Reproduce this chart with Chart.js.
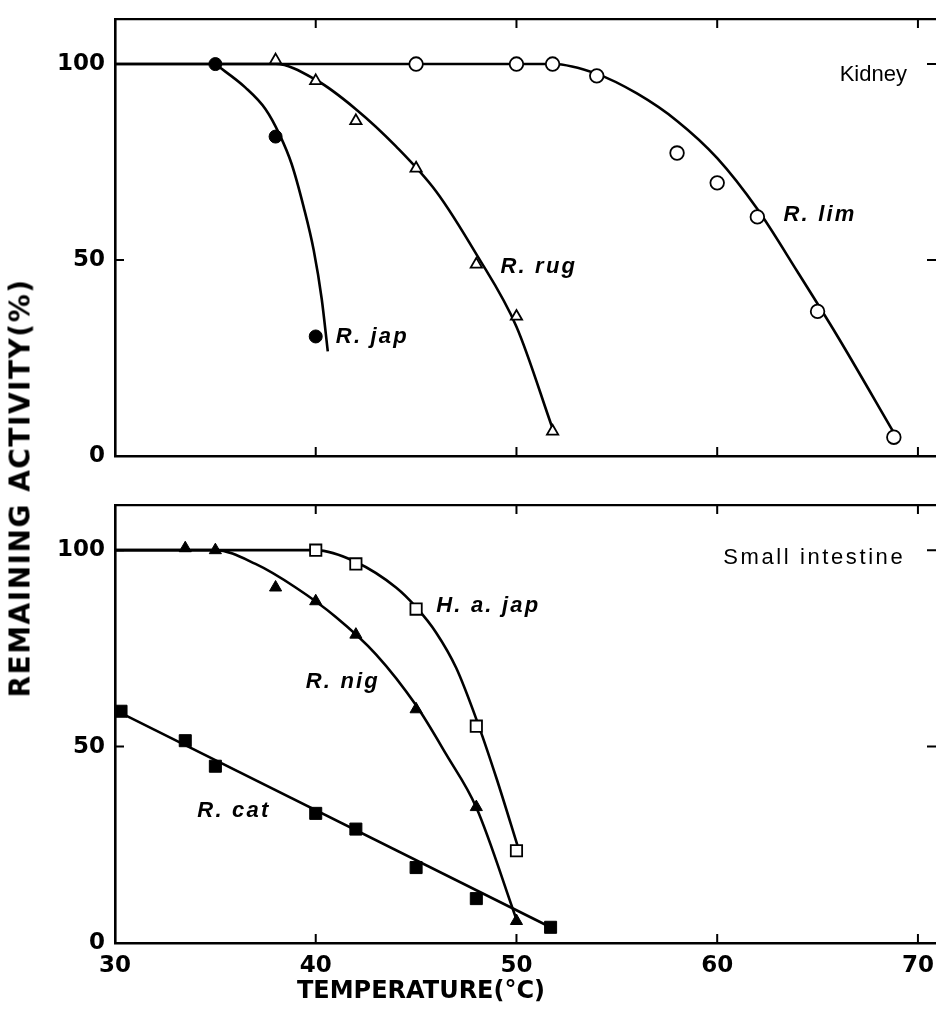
<!DOCTYPE html>
<html>
<head>
<meta charset="utf-8">
<script src="https://cdn.jsdelivr.net/npm/chart.js@4.4.1/dist/chart.umd.min.js"></script>
<style>
  body { margin: 0; background: #fff; width: 936px; height: 1010px; position: relative; overflow: hidden; }
  canvas { position: absolute; left: 0; }
  #kidney { top: 0; }
  #intestine { top: 470px; }
  .ytitle {
    position: absolute; left: 20px; top: 488px;
    transform: translate(-50%, -50%) rotate(-90deg);
    font: bold 28px "DejaVu Sans", sans-serif; letter-spacing: 1.5px;
    white-space: nowrap; color: #000;
  }
  .xtitle {
    position: absolute; left: 421px; top: 990px;
    transform: translate(-50%, -50%);
    font: bold 24px "DejaVu Sans", sans-serif;
    white-space: nowrap; color: #000;
  }
</style>
</head>
<body>
<canvas id="kidney" width="936" height="470"></canvas>
<canvas id="intestine" width="936" height="540"></canvas>
<div class="ytitle">REMAINING ACTIVITY(%)</div>
<div class="xtitle">TEMPERATURE(°C)</div>
<script>
// ---- kidney: measured points ----
var rJapT = [35, 38, 40];
var rJapV = [100, 81.5, 30.5];
var rRugT = [38, 40, 42, 45, 48, 50, 51.8];
var rRugV = [101, 95.7, 85.5, 73.4, 48.9, 35.6, 6.3];
var rLimT = [45, 50, 51.8, 54, 58, 60, 62, 65, 68.8];
var rLimV = [100, 100, 100, 97, 77.3, 69.7, 61, 36.9, 4.8];

// ---- kidney: fitted curves ----
// R. jap leaves the 100% line at an angle, so its curve starts at 35
var rJapCurveT = [35, 36.5, 37.5, 38.2, 38.8, 39.4, 39.9, 40.3, 40.6];
var rJapCurveV = [100, 94, 88.5, 82, 74.5, 63.5, 52.5, 40, 26.7];
var rRugCurveT = [30, 38, 40, 42, 44, 46, 48, 50, 51.8];
var rRugCurveV = [100, 100, 96, 88.5, 79, 67.5, 51.5, 33, 7];
var rLimCurveT = [30, 51.8, 54, 56, 58, 60, 62, 64, 66, 68.85];
var rLimCurveV = [100, 100, 97.5, 92.5, 85.5, 76, 63, 47, 30.5, 5.5];

// ---- small intestine: measured points ----
var haJapT = [40, 42, 45, 48, 50];
var haJapV = [100, 96.5, 85, 55.2, 23.5];
var rNigT = [33.5, 35, 38, 40, 42, 45, 48, 50];
var rNigV = [100.5, 100, 90.5, 87, 78.5, 59.5, 34.6, 5.6];
var rCatT = [30.3, 33.5, 35, 40, 42, 45, 48, 51.7];
var rCatV = [59, 51.5, 45, 33, 29, 19.2, 11.3, 4];

// ---- small intestine: fitted curves ----
var haJapCurveT = [30, 40, 42, 44, 45, 46, 47, 48, 49, 50.1];
var haJapCurveV = [100, 100, 97, 90.5, 85.5, 79, 70, 57, 42, 24];
var rNigCurveT = [30, 35, 37, 39, 41, 43, 45, 46.5, 48, 50];
var rNigCurveV = [100, 100, 96.5, 90.5, 83, 73.5, 60.5, 48, 34.5, 6];
var rCatCurveT = [30, 51.7];
var rCatCurveV = [59.3, 4];

// ---- axes ----
var tempTicks = [30, 40, 50, 60, 70];
var activityTicks = [0, 50, 100];

function pts(t, v) {
  return t.map(function (x, i) { return { x: x, y: v[i] }; });
}

function markers(t, v, style, filled, radius) {
  return {
    data: pts(t, v), showLine: false, order: 0, clip: false,
    pointStyle: style, pointRadius: radius, pointHoverRadius: radius,
    pointBackgroundColor: filled ? '#000' : '#fff',
    pointBorderColor: '#000', pointBorderWidth: filled ? 1 : 1.8
  };
}

function curve(t, v) {
  return {
    data: pts(t, v), showLine: true, order: 1,
    borderColor: '#000', borderWidth: 2.6, pointRadius: 0,
    cubicInterpolationMode: 'monotone', fill: false
  };
}

// inner tick marks on all four sides + text labels placed in data units
var panelDecor = {
  id: 'panelDecor',
  afterDatasetsDraw: function (chart) {
    var ctx = chart.ctx, a = chart.chartArea;
    var x = chart.scales.x, y = chart.scales.y;
    var len = 9;
    ctx.save();
    ctx.strokeStyle = '#000';
    ctx.lineWidth = 2;
    ctx.beginPath();
    tempTicks.forEach(function (t) {
      if (t === 30) return;
      var px = x.getPixelForValue(t);
      ctx.moveTo(px, a.top); ctx.lineTo(px, a.top + len);
      ctx.moveTo(px, a.bottom); ctx.lineTo(px, a.bottom - len);
    });
    activityTicks.forEach(function (v) {
      if (v === 0) return;
      var py = y.getPixelForValue(v);
      ctx.moveTo(a.left, py); ctx.lineTo(a.left + len, py);
      ctx.moveTo(a.right, py); ctx.lineTo(a.right - len, py);
    });
    ctx.stroke();

    var notes = chart.options.plugins.panelDecor.notes || [];
    ctx.fillStyle = '#000';
    ctx.textBaseline = 'middle';
    ctx.textAlign = 'left';
    notes.forEach(function (n) {
      ctx.font = n.font;
      ctx.letterSpacing = n.spacing || '0px';
      ctx.fillText(n.text, x.getPixelForValue(n.t), y.getPixelForValue(n.v));
    });
    ctx.restore();
  }
};

var tickFont = { family: 'DejaVu Sans', size: 23, weight: 'bold' };
var nameFont = 'italic bold 22px "Liberation Sans", Arial, sans-serif';
var organFont = '22px "Liberation Sans", Arial, sans-serif';

function noPad(s) { s.paddingLeft = 0; s.paddingRight = 0; s.paddingTop = 0; s.paddingBottom = 0; }

function makePanel(id, datasets, notes, topPad, bottomPad, showX) {
  var canvas = document.getElementById(id);
  return new Chart(canvas.getContext('2d'), {
    type: 'scatter',
    data: { datasets: datasets },
    options: {
      responsive: false, animation: false,
      layout: { autoPadding: false, padding: 0 },
      plugins: {
        legend: { display: false }, tooltip: { enabled: false },
        panelDecor: { notes: notes }
      },
      scales: {
        x: {
          type: 'linear', position: 'bottom', min: 30, max: 70.9,
          ticks: {
            display: showX, stepSize: 10, includeBounds: false, padding: 9,
            color: '#000', font: tickFont, maxRotation: 0
          },
          grid: { display: true, drawOnChartArea: false, drawTicks: false },
          border: { display: true, color: '#000', width: 2.6 },
          afterFit: function (s) { s.height = bottomPad; noPad(s); }
        },
        x2: {
          type: 'linear', position: 'top', min: 30, max: 70.9,
          ticks: { display: false },
          grid: { display: true, drawOnChartArea: false, drawTicks: false },
          border: { display: true, color: '#000', width: 2.2 },
          afterFit: function (s) { s.height = topPad; noPad(s); }
        },
        y: {
          type: 'linear', position: 'left', min: 0, max: 111.5,
          ticks: {
            stepSize: 50, includeBounds: false, padding: 10,
            color: '#000', font: tickFont
          },
          grid: { display: true, drawOnChartArea: false, drawTicks: false },
          border: { display: true, color: '#000', width: 2.6 },
          afterFit: function (s) { s.width = 115; noPad(s); }
        },
        y2: {
          type: 'linear', position: 'right', min: 0, max: 111.5,
          ticks: { display: false },
          grid: { display: false, drawTicks: false },
          border: { display: false },
          afterFit: function (s) { s.width = 0; noPad(s); }
        }
      }
    },
    plugins: [panelDecor]
  });
}

makePanel('kidney', [
  markers(rJapT, rJapV, 'circle', true, 6.5),
  markers(rRugT, rRugV, 'triangle', false, 6.5),
  markers(rLimT, rLimV, 'circle', false, 6.8),
  curve(rJapCurveT, rJapCurveV),
  curve(rRugCurveT, rRugCurveV),
  curve(rLimCurveT, rLimCurveV)
], [
  { text: 'Kidney', t: 66.1, v: 97.3, font: organFont, spacing: '0px' },
  { text: 'R. lim', t: 63.3, v: 61.5, font: nameFont, spacing: '2.2px' },
  { text: 'R. rug', t: 49.2, v: 48.2, font: nameFont, spacing: '2.2px' },
  { text: 'R. jap', t: 41.0, v: 30.4, font: nameFont, spacing: '2.2px' }
], 19, 14, false);

makePanel('intestine', [
  markers(haJapT, haJapV, 'rect', false, 8),
  markers(rNigT, rNigV, 'triangle', true, 7),
  markers(rCatT, rCatV, 'rect', true, 8.5),
  curve(haJapCurveT, haJapCurveV),
  curve(rNigCurveT, rNigCurveV),
  curve(rCatCurveT, rCatCurveV)
], [
  { text: 'Small intestine', t: 60.3, v: 98, font: organFont, spacing: '2.6px' },
  { text: 'H. a. jap', t: 46.0, v: 85.7, font: nameFont, spacing: '2.2px' },
  { text: 'R. nig', t: 39.5, v: 66.5, font: nameFont, spacing: '2.2px' },
  { text: 'R. cat', t: 34.1, v: 33.5, font: nameFont, spacing: '2.2px' }
], 35, 67, true);
</script>
</body>
</html>
